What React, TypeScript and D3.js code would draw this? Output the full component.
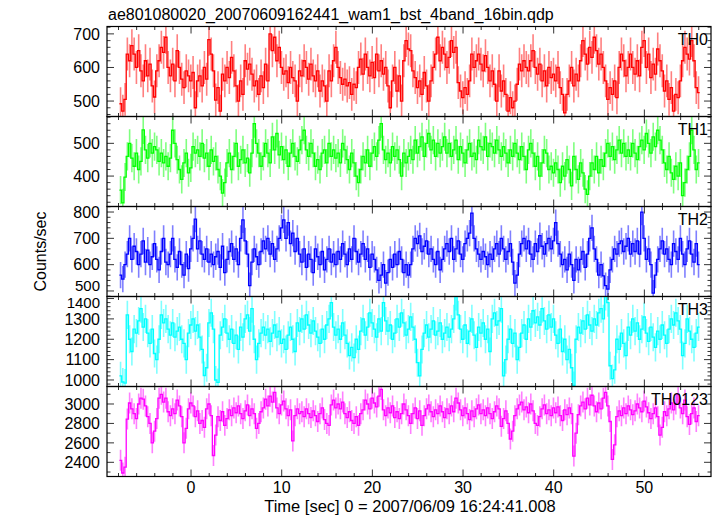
import React from 'react';
import * as d3 from 'd3';

const TITLE = 'ae801080020_20070609162441_wam1_bst_4band_16bin.qdp';
const XLABEL = 'Time [sec] 0 = 2007/06/09 16:24:41.008';
const YLABEL = 'Counts/sec';
const T_START = -7.9;
const BIN = 0.25;

const TH0 = [
  492, 470, 505, 640, 620, 665, 640, 600, 650, 590, 560, 620, 575, 610, 545, 512,
  590, 620, 660, 645, 690, 600, 575, 610, 560, 650, 600, 565, 540, 590, 575, 560,
  585, 480, 560, 575, 545, 600, 565, 683, 640, 590, 503, 540, 470, 580, 560, 600,
  570, 630, 590, 545, 500, 560, 520, 620, 595, 610, 580, 545, 560, 520, 575, 540,
  610, 560, 700, 650, 690, 620, 660, 600, 580, 590, 555, 600, 570, 560, 500, 590,
  575, 620, 600, 565, 610, 575, 560, 590, 530, 560, 545, 500, 590, 560, 620, 660,
  600, 570, 550, 565, 545, 555, 520, 550, 540, 600, 625, 580, 640, 600, 575, 615,
  570, 640, 590, 620, 580, 600, 545, 480, 560, 600, 530, 575, 500, 620, 680, 655,
  650, 590, 570, 540, 560, 520, 585, 545, 500, 560, 600, 640, 690, 620, 660, 640,
  600, 630, 680, 645, 660, 555, 530, 510, 540, 520, 560, 640, 600, 620, 640, 610,
  590, 635, 600, 560, 590, 550, 500, 590, 530, 560, 520, 470, 510, 480, 500, 550,
  610, 590, 620, 600, 590, 620, 650, 600, 580, 610, 560, 590, 545, 600, 570, 580,
  560, 600, 540, 520, 465, 520, 560, 600, 545, 580, 560, 620, 680, 640, 610, 660,
  630, 690, 650, 610, 640, 600, 560, 505, 540, 520, 560, 510, 600, 640, 620, 575,
  600, 640, 600, 580, 620, 575, 660, 680, 600, 640, 570, 610, 580, 655, 620, 590,
  530, 560, 505, 540, 470, 520, 510, 560, 620, 660, 640, 625, 680, 620, 540, 525,
];

const TH1 = [
  357, 318, 397, 460, 500, 455, 430, 470, 420, 445, 541, 480, 455, 500, 470, 490,
  480, 445, 470, 440, 460, 430, 455, 540, 500, 450, 420, 390, 440, 470, 410, 425,
  490, 470, 480, 460, 500, 455, 470, 430, 480, 445, 460, 420, 400, 348, 380, 440,
  470, 420, 460, 500, 430, 450, 480, 440, 455, 410, 470, 560, 500, 470, 430, 460,
  500, 470, 440, 520, 480, 530, 465, 490, 450, 480, 430, 470, 500, 460, 445, 480,
  510, 540, 480, 460, 500, 470, 430, 450, 420, 470, 480, 440, 500, 460, 480, 455,
  470, 440, 500, 480, 450, 420, 470, 440, 400, 380, 420, 460, 440, 480, 430, 470,
  490, 460, 510, 560, 480, 450, 470, 440, 490, 460, 480, 450, 400, 470, 440, 460,
  480, 450, 510, 470, 490, 520, 460, 500, 530, 480, 510, 460, 500, 470, 490, 520,
  470, 500, 460, 480, 510, 450, 490, 470, 440, 480, 500, 460, 470, 450, 510, 490,
  480, 520, 460, 500, 490, 470, 510, 480, 460, 490, 470, 440, 480, 460, 500, 470,
  450, 490, 460, 420, 480, 500, 470, 430, 460, 400, 440, 480, 470, 420, 430, 410,
  440, 420, 380, 430, 400, 450, 420, 370, 460, 420, 390, 440, 410, 360, 344, 400,
  440, 420, 460, 410, 450, 430, 470, 500, 460, 490, 450, 480, 510, 470, 500, 460,
  480, 460, 500, 470, 450, 490, 510, 480, 530, 500, 470, 520, 490, 540, 510, 480,
  440, 420, 460, 410, 390, 430, 400, 440, 340, 380, 420, 460, 540, 480, 420, 440,
];

const TH2 = [
  560, 545, 600, 640, 700, 620, 670, 650, 600, 640, 690, 610, 655, 600, 630, 680,
  620, 580, 650, 700, 610, 600, 640, 700, 620, 590, 650, 600, 560, 640, 585, 660,
  700, 773, 660, 690, 640, 620, 660, 610, 640, 600, 630, 650, 590, 670, 570, 620,
  650, 680, 620, 660, 600, 700, 770, 690, 640, 520, 610, 660, 630, 600, 650, 690,
  660, 700, 640, 680, 620, 660, 700, 740, 770, 700, 760, 680, 720, 650, 700, 640,
  610, 660, 590, 640, 620, 570, 660, 630, 600, 650, 580, 620, 660, 610, 640, 600,
  650, 620, 680, 640, 600, 660, 620, 700, 650, 610, 640, 680, 620, 660, 590, 640,
  620, 580, 540, 560, 600, 530, 570, 620, 590, 640, 600, 650, 620, 570, 600, 560,
  600, 660, 700, 680, 709, 650, 670, 690, 640, 660, 620, 600, 650, 580, 620, 660,
  680, 650, 700, 620, 660, 690, 640, 620, 680, 700, 720, 796, 700, 660, 640, 620,
  650, 630, 600, 640, 620, 660, 680, 640, 700, 660, 620, 650, 680, 610, 530, 560,
  640, 680, 700, 660, 690, 640, 620, 680, 650, 710, 670, 640, 680, 700, 660, 690,
  760, 680, 640, 600, 620, 580, 640, 600, 540, 620, 580, 620, 650, 590, 640, 700,
  740, 660, 620, 560, 600, 557, 520, 507, 580, 620, 660, 640, 680, 690, 650, 670,
  700, 640, 680, 650, 690, 640, 800, 700, 620, 660, 600, 492, 560, 620, 660, 690,
  640, 660, 620, 600, 680, 650, 620, 700, 640, 600, 660, 690, 640, 610, 680, 600,
];

const TH3 = [
  1020, 990, 985, 1320, 1200, 1140, 1250, 1230, 1290, 1350, 1260, 1300, 1230, 1180, 1250, 1130,
  1100, 1200, 1320, 1280, 1300, 1250, 1220, 1280, 1210, 1240, 1260, 1200, 1180, 1100, 1230, 1270,
  1300, 1240, 1270, 1210, 1150, 1022, 1060, 1280, 1330, 1250, 1000, 988, 1220, 1260, 1300, 1230,
  1200, 1250, 1180, 1220, 1150, 1260, 1210, 1300, 1320, 1240, 1350, 1200, 1100, 1180, 1230, 1260,
  1220, 1250, 1190, 1230, 1270, 1210, 1240, 1180, 1200, 1150, 1220, 1260, 1200, 1140, 1280, 1240,
  1300, 1250, 1320, 1270, 1230, 1290, 1240, 1210, 1180, 1250, 1200, 1270, 1300, 1380, 1260, 1220,
  1250, 1200, 1280, 1220, 1180, 1120, 1160, 1110, 1200, 1150, 1240, 1300, 1220, 1260, 1330, 1280,
  1250, 1210, 1300, 1240, 1380, 1290, 1240, 1270, 1200, 1230, 1300, 1260, 1330, 1280, 1220, 1250,
  1310, 1260, 1200, 1085, 1020, 1150, 1230, 1270, 1210, 1250, 1290, 1220, 1240, 1280, 1200, 1230,
  1260, 1210, 1250, 1300, 1410, 1320, 1250, 1200, 1270, 1180, 1240, 1300, 1220, 1160, 1260, 1230,
  1280, 1200, 1250, 1140, 1300, 1330, 1270, 1290, 1350, 1020, 1100, 1200, 1250, 1180, 1230, 1100,
  1160, 1230, 1270, 1200, 1300, 1260, 1340, 1280, 1310, 1270, 1350, 1290, 1250, 1320, 1260, 1300,
  1220, 1180, 1250, 1140, 1200, 1100, 1150, 1060, 973, 1200, 1260, 1230, 1290, 1250, 1320, 1270,
  1240, 1300, 1270, 1330, 1350, 1300, 1410, 1380, 1070, 1007, 1050, 1200, 1150, 1230, 1180, 1120,
  1260, 1220, 1300, 1240, 1280, 1200, 1250, 1310, 1230, 1190, 1260, 1210, 1160, 1240, 1200, 1270,
  1220, 1180, 1250, 1300, 1270, 1330, 1290, 1250, 1120, 1180, 1300, 1240, 1200, 1160, 1230, 1260,
];

const TH0123 = [
  2420, 2290, 2350, 2845, 3010, 2950, 2900, 2850, 3000, 3060, 3050, 2980, 2870, 2800, 2600, 2720,
  2850, 3060, 3100, 3020, 3060, 2920, 2880, 2950, 2900, 3040, 2980, 2870, 2600, 2750, 2950, 3010,
  2980, 2870, 2930, 2800, 2830, 2760, 2950, 3000, 2880, 2470, 2680, 2870, 2830, 2920, 2780, 2850,
  2940, 2880, 2960, 2910, 2980, 2900, 2850, 2930, 2990, 2880, 2950, 2900, 2750, 2800, 2920, 2960,
  3050, 2980, 3080, 3020, 3120, 2960, 2900, 2990, 3030, 2950, 2880, 2940, 2620, 2880, 2950, 2900,
  2920, 2870, 2950, 2900, 2860, 2930, 2880, 2820, 2900, 2960, 2840, 2800, 2780, 2990, 3040, 2960,
  3000, 2950, 3020, 2900, 2860, 2920, 2830, 2800, 2870, 2780, 2900, 2940, 3040, 3000, 2950, 3060,
  3010, 2970, 3080, 3150, 2940, 2880, 2960, 2910, 2980, 2860, 2920, 2850, 2900, 3000, 2940, 2880,
  2800, 2900, 2960, 2850, 2930, 2780, 2880, 2950, 2990, 2920, 2870, 2940, 2900, 2980, 2920, 2860,
  2950, 2900, 2980, 2920, 3060, 3010, 2940, 2880, 2960, 2900, 2840, 2930, 2870, 2950, 2990, 2900,
  2940, 2880, 2960, 2900, 2850, 2920, 2980, 2950, 2770, 2850, 2930, 2800, 2640, 2720, 2880, 2950,
  2990, 3020, 2940, 2970, 2910, 3000, 2930, 2800, 2780, 2870, 2950, 2990, 2900, 2940, 2880, 2960,
  2910, 2970, 2880, 2830, 2940, 2890, 2960, 2900, 2464, 2700, 2890, 2980, 3020, 2950, 3060, 2990,
  3090, 2980, 2920, 3010, 2950, 3060, 3120, 2980, 2820, 2430, 2580, 2870, 2930, 2880, 2960, 2900,
  2980, 2940, 2890, 2930, 3000, 2960, 2920, 3030, 2970, 2910, 2850, 2900, 2960, 2870, 2680, 2760,
  2920, 2880, 2950, 3010, 2940, 3000, 3100, 2960, 2900, 3040, 2870, 2790, 2900, 2960, 2820, 2880,
];

const PANEL_NAMES = ['TH0', 'TH1', 'TH2', 'TH3', 'TH0123'];
const PANEL_ERRORS = [49, 43, 50, 69, 108];
const PANEL_DOMAINS: [number, number][] = [[454, 722], [307, 582], [479, 821], [968, 1410], [2254, 3180]];
const PANEL_LABEL_TICKS = [[500, 600, 700], [400, 500], [500, 600, 700, 800], [1000, 1100, 1200, 1300, 1400], [2400, 2600, 2800, 3000]];
const PANEL_MINOR = [20, 20, 20, 20, 100];
const PANEL_COLORS = ['#ff0000', '#00ff00', '#0000ff', '#00ffff', '#ff00ff'];
const SERIES = [TH0, TH1, TH2, TH3, TH0123];

const W = 717, H = 516;
const L = 107, R = 711, TOP = 26.5, PH = 90;
const FONT = '"Liberation Sans", Arial, Helvetica, sans-serif';

export default function App() {
  const x = d3.scaleLinear().domain([-9.27, 57.35]).range([L, R]);
  const xMinor = d3.range(-8, 57, 2);
  const xMajor = d3.range(0, 57, 10);

  return (
    <svg width={W} height={H} style={{ position: 'absolute', left: 0, top: 0, background: '#fff' }} fontFamily={FONT}>
      <defs>
        {PANEL_NAMES.map((n, p) => (
          <clipPath id={`clip${p}`} key={n}>
            <rect x={L} y={TOP + p * PH} width={R - L} height={PH} />
          </clipPath>
        ))}
      </defs>
      <text x={108} y={20} fontSize={16}>{TITLE}</text>
      {SERIES.map((vals, p) => {
        const y0 = TOP + p * PH;
        const y = d3.scaleLinear().domain(PANEL_DOMAINS[p]).range([y0 + PH, y0]);
        const pts: [number, number][] = vals.map((v, i) => [T_START + i * BIN, v]);
        pts.push([T_START + vals.length * BIN, vals[vals.length - 1]]);
        const line = d3.line<[number, number]>().x(d => x(d[0])).y(d => y(d[1])).curve(d3.curveStepAfter);
        const err = PANEL_ERRORS[p];
        const color = PANEL_COLORS[p];
        const [d0, d1] = PANEL_DOMAINS[p];
        const minors = d3.range(Math.ceil(d0 / PANEL_MINOR[p]) * PANEL_MINOR[p], d1, PANEL_MINOR[p]);
        return (
          <g key={p}>
            <g clipPath={`url(#clip${p})`}>
              {vals.map((v, i) => {
                const cx = x(T_START + (i + 0.5) * BIN);
                return <line key={i} x1={cx} x2={cx} y1={y(v - err)} y2={y(v + err)} stroke={color} strokeOpacity={0.5} strokeWidth={1.6} />;
              })}
              <path d={line(pts) || ''} fill="none" stroke={color} strokeWidth={1.3} />
            </g>
            {minors.map(v => {
              const major = PANEL_LABEL_TICKS[p].includes(v);
              const len = major ? 7 : 3.5;
              return (
                <g key={v} stroke="#333" strokeWidth={1}>
                  <line x1={L} x2={L + len} y1={y(v)} y2={y(v)} />
                  <line x1={R} x2={R - len} y1={y(v)} y2={y(v)} />
                </g>
              );
            })}
            {PANEL_LABEL_TICKS[p].map(v => {
              const yy = y(v);
              const nearBottom = yy > y0 + PH - 6;
              const nearTop = yy < y0 + 4;
              const shift = nearBottom ? -5 : nearTop ? 4 : 0;
              const fs = nearBottom || nearTop ? 15 : 16;
              return <text key={v} x={100} y={yy + shift} dy="0.36em" textAnchor="end" fontSize={fs}>{v}</text>;
            })}
            {xMinor.map(t => {
              const major = t % 10 === 0;
              const len = major ? 7 : 3.5;
              return (
                <g key={t} stroke="#333" strokeWidth={1}>
                  <line x1={x(t)} x2={x(t)} y1={y0} y2={y0 + len} />
                  <line x1={x(t)} x2={x(t)} y1={y0 + PH} y2={y0 + PH - len} />
                </g>
              );
            })}
            <rect x={L} y={y0} width={R - L} height={PH} fill="none" stroke="#000" strokeWidth={1.2} />
            <text x={708} y={y0 + 18} textAnchor="end" fontSize={16}>{PANEL_NAMES[p]}</text>
          </g>
        );
      })}
      {xMajor.map(t => (
        <text key={t} x={x(t)} y={493} textAnchor="middle" fontSize={16}>{t}</text>
      ))}
      <text x={410} y={511.5} textAnchor="middle" fontSize={16.5}>{XLABEL}</text>
      <text transform={`translate(46,${TOP + 2.5 * PH}) rotate(-90)`} textAnchor="middle" fontSize={16}>{YLABEL}</text>
    </svg>
  );
}
